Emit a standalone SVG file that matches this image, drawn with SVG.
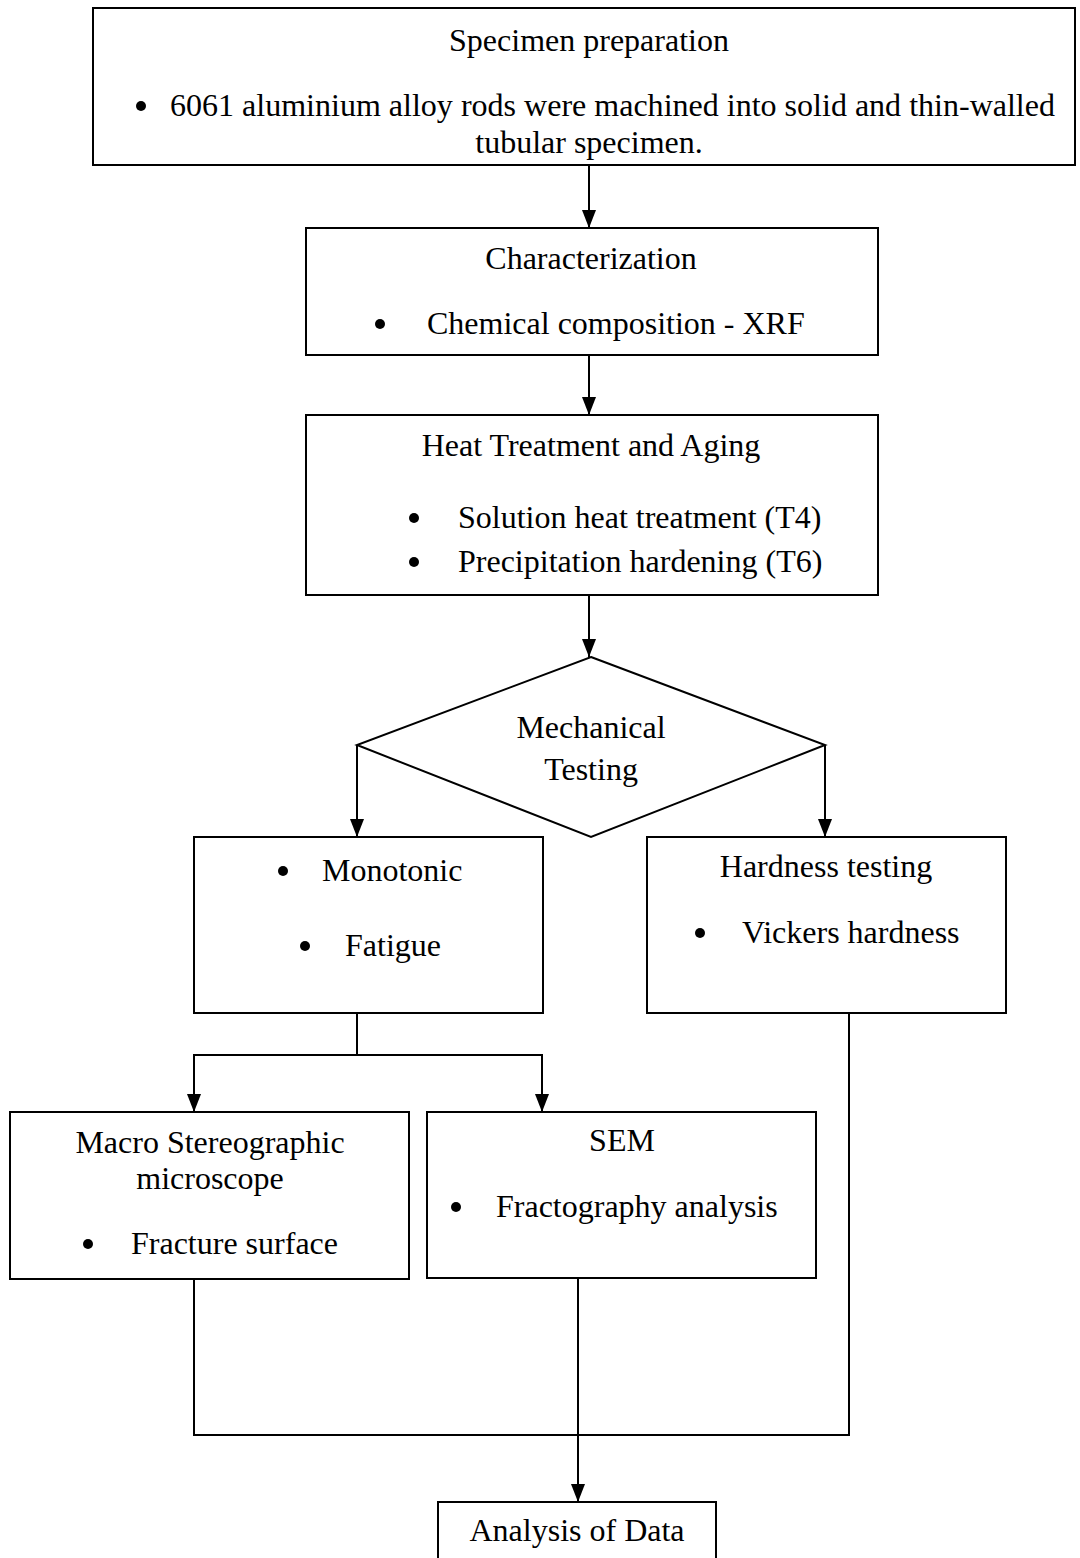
<svg xmlns="http://www.w3.org/2000/svg" width="1080" height="1558" viewBox="0 0 1080 1558">
<defs>
<style>
.box{fill:#fff;stroke:#000;stroke-width:2}
.ln{fill:none;stroke:#000;stroke-width:2}
text{font-family:"Liberation Serif","Times New Roman",serif;font-size:32px;fill:#000}
.c{text-anchor:middle}
</style>
<marker id="a" markerWidth="18" markerHeight="14" refX="18" refY="7" orient="auto" markerUnits="userSpaceOnUse" viewBox="0 0 18 14">
<path d="M0,0 L18,7 L0,14 Z" fill="#000"/>
</marker>
</defs>
<rect width="1080" height="1558" fill="#fff"/>
<g id="connectors">
<line class="ln" x1="589" y1="165" x2="589" y2="228" marker-end="url(#a)"/>
<line class="ln" x1="589" y1="355" x2="589" y2="415" marker-end="url(#a)"/>
<line class="ln" x1="589" y1="595" x2="589" y2="657" marker-end="url(#a)"/>
<polyline class="ln" points="357,745 357,837" marker-end="url(#a)"/>
<polyline class="ln" points="825,745 825,837" marker-end="url(#a)"/>
<line class="ln" x1="357" y1="1013" x2="357" y2="1055"/>
<polyline class="ln" points="194,1055 194,1112" marker-end="url(#a)"/>
<polyline class="ln" points="542,1055 542,1112" marker-end="url(#a)"/>
<line class="ln" x1="193" y1="1055" x2="543" y2="1055"/>
<polyline class="ln" points="194,1279 194,1435 849,1435 849,1013"/>
<polyline class="ln" points="578,1278 578,1502" marker-end="url(#a)"/>
</g>
<g id="specimen">
<rect class="box" x="93" y="8" width="982" height="157"/>
<text class="c" x="589" y="51">Specimen preparation</text>
<circle cx="141" cy="106" r="5"/>
<text x="170" y="116" textLength="885" lengthAdjust="spacingAndGlyphs">6061 aluminium alloy rods were machined into solid and thin-walled</text>
<text class="c" x="589" y="153">tubular specimen.</text>
</g>
<g id="characterization">
<rect class="box" x="306" y="228" width="572" height="127"/>
<text class="c" x="591" y="269">Characterization</text>
<circle cx="380" cy="324" r="5"/>
<text x="427" y="334">Chemical composition - XRF</text>
</g>
<g id="heat">
<rect class="box" x="306" y="415" width="572" height="180"/>
<text class="c" x="591" y="456">Heat Treatment and Aging</text>
<circle cx="414" cy="518" r="5"/>
<text x="458" y="528">Solution heat treatment (T4)</text>
<circle cx="414" cy="562" r="5"/>
<text x="458" y="572">Precipitation hardening (T6)</text>
</g>
<g id="mechanical">
<polygon class="box" points="591,657 825,745 591,837 357,745"/>
<text class="c" x="591" y="738">Mechanical</text>
<text class="c" x="591" y="780">Testing</text>
</g>
<g id="monotonic">
<rect class="box" x="194" y="837" width="349" height="176"/>
<circle cx="283" cy="871" r="5"/>
<text x="322" y="881">Monotonic</text>
<circle cx="305" cy="946" r="5"/>
<text x="345" y="956">Fatigue</text>
</g>
<g id="hardness">
<rect class="box" x="647" y="837" width="359" height="176"/>
<text class="c" x="826" y="877">Hardness testing</text>
<circle cx="700" cy="933" r="5"/>
<text x="742" y="943">Vickers hardness</text>
</g>
<g id="macro">
<rect class="box" x="10" y="1112" width="399" height="167"/>
<text class="c" x="210" y="1153">Macro Stereographic</text>
<text class="c" x="210" y="1189">microscope</text>
<circle cx="88" cy="1244" r="5"/>
<text x="131" y="1254">Fracture surface</text>
</g>
<g id="sem">
<rect class="box" x="427" y="1112" width="389" height="166"/>
<text class="c" x="622" y="1151">SEM</text>
<circle cx="456" cy="1207" r="5"/>
<text x="496" y="1217">Fractography analysis</text>
</g>
<g id="analysis">
<rect class="box" x="438" y="1502" width="278" height="70"/>
<text class="c" x="577" y="1541">Analysis of Data</text>
</g>
</svg>
